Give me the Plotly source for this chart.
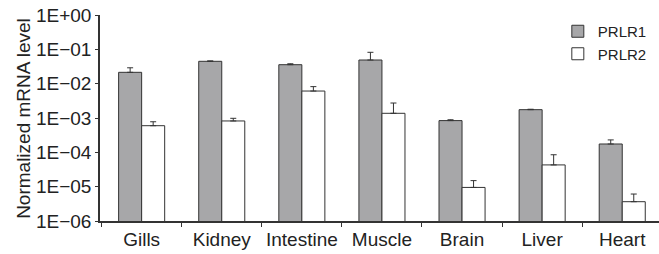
import plotly.graph_objects as go

categories = ["Gills", "Kidney", "Intestine", "Muscle", "Brain", "Liver", "Heart"]
prlr1 = [0.0214, 0.0448, 0.0357, 0.0489, 8.4e-4, 1.75e-3, 1.75e-4]
prlr1_err = [0.0076, 0.0012, 0.0023, 0.033, 0.5e-4, 0.05e-3, 0.55e-4]
prlr2 = [5.97e-4, 8.2e-4, 6.1e-3, 1.37e-3, 9.5e-6, 4.3e-5, 3.65e-6]
prlr2_err = [1.8e-4, 1.6e-4, 2.1e-3, 1.36e-3, 5.5e-6, 4.2e-5, 2.45e-6]
tick_vals = [1, 1e-1, 1e-2, 1e-3, 1e-4, 1e-5, 1e-6]
tick_text = ["1E+00", "1E\u221201", "1E\u221202", "1E\u221203", "1E\u221204", "1E\u221205", "1E\u221206"]
y_title = "Normalized mRNA level"

line_col = "#333333"
font = dict(family="Liberation Sans, Arial, sans-serif", color="#222222")

fig = go.Figure()
fig.add_trace(go.Bar(
    name="PRLR1", x=categories, y=prlr1,
    marker=dict(color="#a7a7a9", line=dict(color=line_col, width=1)),
    error_y=dict(type="data", array=prlr1_err, arrayminus=[0]*7, symmetric=False,
                 color=line_col, thickness=1, width=3),
))
fig.add_trace(go.Bar(
    name="PRLR2", x=categories, y=prlr2,
    marker=dict(color="#ffffff", line=dict(color=line_col, width=1)),
    error_y=dict(type="data", array=prlr2_err, arrayminus=[0]*7, symmetric=False,
                 color=line_col, thickness=1, width=3),
))

fig.update_layout(
    width=659, height=254,
    margin=dict(l=100, r=0, t=15, b=33),
    plot_bgcolor="white", paper_bgcolor="white",
    barmode="group", bargap=0.425, bargroupgap=0,
    font=dict(size=19, **font),
    showlegend=True,
    legend=dict(x=0.819, y=1.0, xanchor="left", yanchor="top",
                font=dict(size=15, **font), itemwidth=30,
                bgcolor="rgba(0,0,0,0)", tracegroupgap=0),
    xaxis=dict(type="category", range=[-0.52, 6.459], showline=True,
               linecolor=line_col, linewidth=1.5, ticks="outside",
               tickson="boundaries", ticklen=4, tickcolor=line_col,
               tickangle=0, automargin=False,
               tickfont=dict(size=19, **font), showgrid=False, zeroline=False),
    yaxis=dict(type="log", range=[-6, 0], showline=True, linecolor=line_col,
               linewidth=1.5, ticks="outside", ticklen=3, tickcolor=line_col,
               tickvals=tick_vals, ticktext=tick_text, showgrid=False,
               automargin=False,
               zeroline=False, tickfont=dict(size=19, **font)),
    annotations=[dict(text=y_title, textangle=-90, xref="paper", yref="paper",
                      x=-0.138, y=0.5, xanchor="center", yanchor="middle",
                      showarrow=False, font=dict(size=19, **font))],
)

fig.write_html("out.html", config={"displayModeBar": False},
               post_script="document.body.style.margin='0';")
